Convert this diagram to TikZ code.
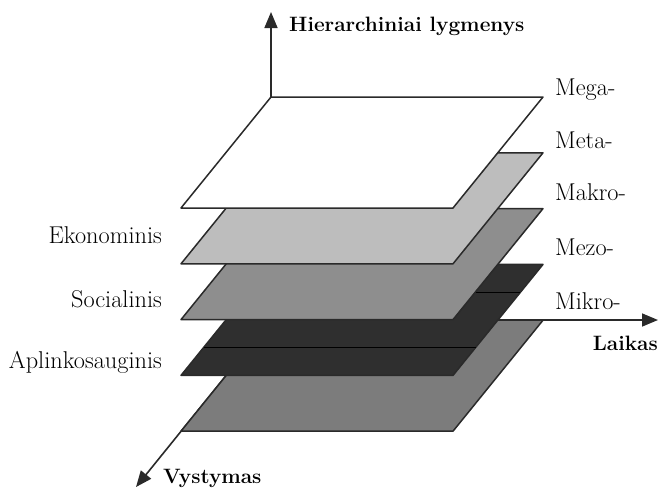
\documentclass[tikz,border=0pt]{standalone}
\usepackage{fontspec}
\usepackage{tikz}
\usetikzlibrary{arrows.meta}
\definecolor{Edge}{HTML}{2A2A2A}
\definecolor{MetaFill}{HTML}{BDBDBD}
\definecolor{MakroFill}{HTML}{8E8E8E}
\definecolor{MezoFill}{HTML}{2F2F2F}
\definecolor{MikroFill}{HTML}{7C7C7C}

\begin{document}
\begin{tikzpicture}[
      x=1pt, y=-1pt,
      layer/.style={draw=Edge, line width=1.5pt, line join=round},
      axis/.style={-{Triangle[length=16pt,width=13pt]}, line width=1.6pt, draw=Edge},
      lvl/.style={inner sep=0pt, font=\fontsize{24.3}{28}\selectfont},
      ttl/.style={inner sep=0pt, font=\fontsize{20.8}{24}\selectfont\bfseries}
    ]
    \useasboundingbox (0,0) rectangle (659,490);
    \coordinate (o) at (271,320);
    \coordinate (htip) at (271,12);
    \coordinate (ltip) at (658,320);
    \coordinate (vtip) at (136,487);

    \draw[axis] (o) -- (htip);
    \draw[axis] (o) -- (ltip);
    \draw[axis] (o) -- (vtip);

    % layers, from the bottom one up
    \foreach \k/\c in {4/MikroFill, 3/MezoFill, 2/MakroFill, 1/MetaFill, 0/white}{
      \pgfmathsetmacro\yb{97+55.8*\k}
      \draw[layer, fill=\c] (271,\yb) -- ++(272,0) -- ++(-90,111) -- ++(-272,0) -- cycle;
      \ifnum\k=3
        \draw[layer, draw=black] (248.3,{\yb+28}) -- ++(272,0);
        \draw[layer, draw=black] (203.7,{\yb+83}) -- ++(272,0);
      \fi
    }

    \node[lvl, anchor=base west] (mega) at (555,95) {Mega-};
    \node[lvl, anchor=base west] (meta) at (555,148) {Meta-};
    \node[lvl, anchor=base west] (makro) at (555,200) {Makro-};
    \node[lvl, anchor=base west] (mezo) at (555,255) {Mezo-};
    \node[lvl, anchor=base west] (mikro) at (555,309) {Mikro-};

    \node[lvl, anchor=base east] (eko) at (162,243) {Ekonominis};
    \node[lvl, anchor=base east] (soc) at (162,307) {Socialinis};
    \node[lvl, anchor=base east] (apl) at (162,368) {Aplinkosauginis};

    \node[ttl, anchor=base west] (hier) at (289,31) {Hierarchiniai lygmenys};
    \node[ttl, anchor=base east] (laik) at (658,350) {Laikas};
    \node[ttl, anchor=base west] (vyst) at (163,483) {Vystymas};
  \end{tikzpicture}
\end{document}
